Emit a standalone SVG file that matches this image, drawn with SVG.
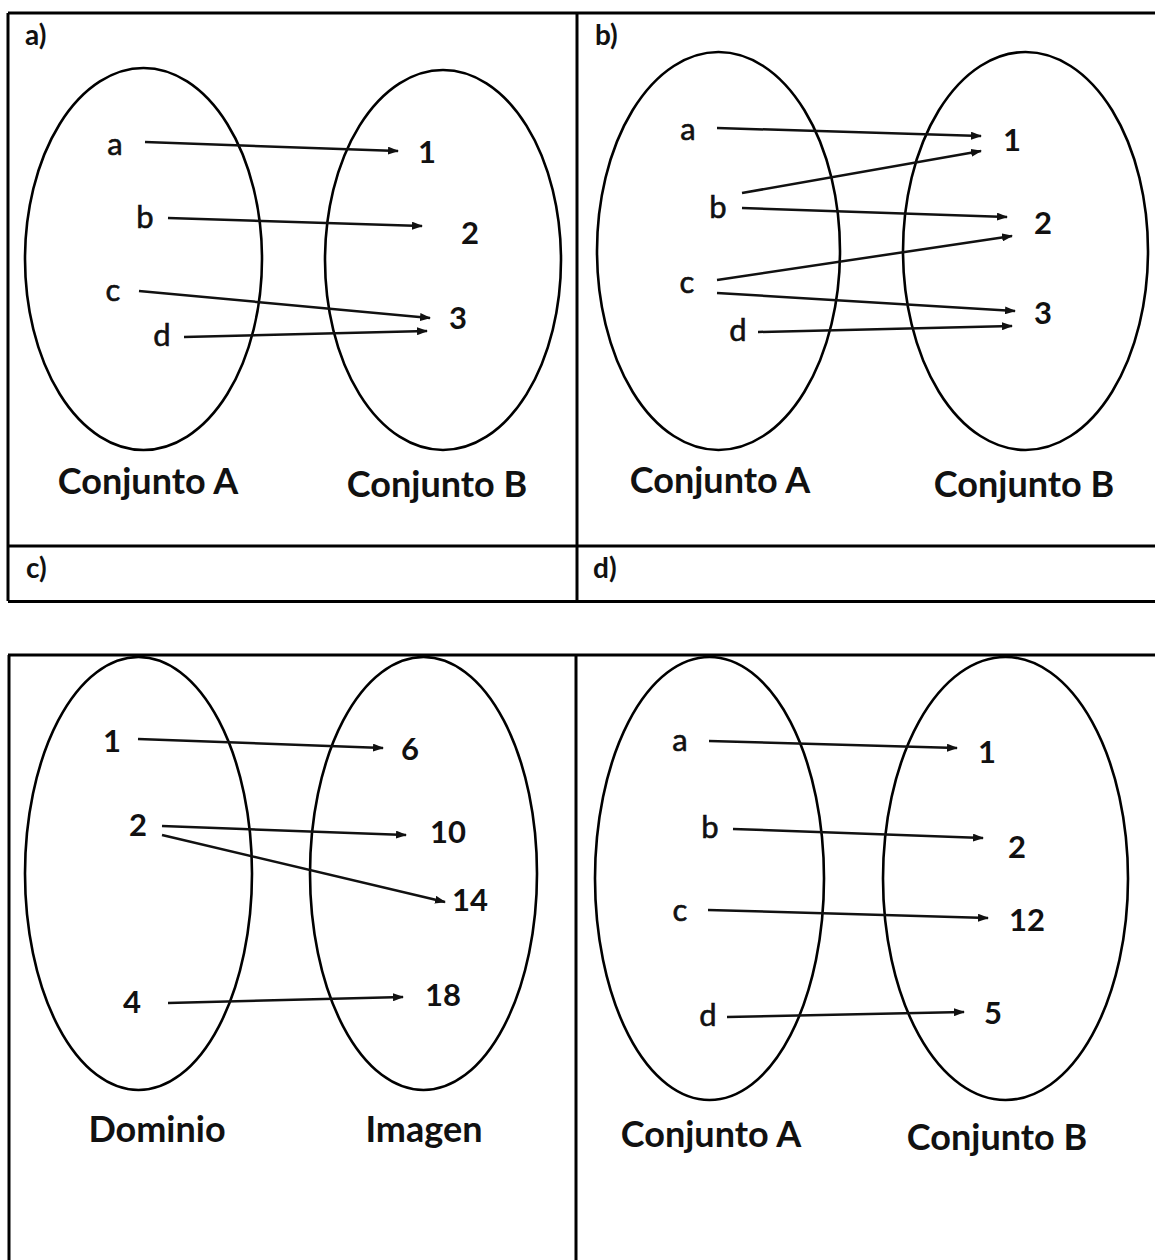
<svg xmlns="http://www.w3.org/2000/svg" width="1155" height="1260" viewBox="0 0 1155 1260">
<style>
.bg{fill:#fff}
.grid{stroke:#000;stroke-width:3;fill:none}
.set{fill:none;stroke:#000;stroke-width:2.6}
.arr{stroke:#111;stroke-width:2.5;fill:none;marker-end:url(#ah)}
.lt{font-family:Lato,"Liberation Sans",sans-serif;font-size:31px;fill:#111;stroke:#111;stroke-width:0.6;text-anchor:middle}
.dg{font-family:Lato,"Liberation Sans",sans-serif;font-size:31px;font-weight:bold;fill:#111;text-anchor:middle}
.cap{font-family:Lato,"Liberation Sans",sans-serif;font-size:36px;font-weight:bold;fill:#111;text-anchor:middle}
.pl{font-family:Lato,"Liberation Sans",sans-serif;font-size:28px;font-weight:bold;fill:#111}
</style>
<defs>
<marker id="ah" markerUnits="userSpaceOnUse" markerWidth="11" markerHeight="8" refX="10" refY="4" orient="auto">
<path d="M0,0 L11,4 L0,8 z" fill="#111"/>
</marker>
</defs>
<rect class="bg" x="0" y="0" width="1155" height="1260"/>
<g id="table">
<path class="grid" d="M8,13 H1160 M8,13 V601 M577,13 V601 M8,546 H1160 M8,601.5 H1160"/>
<path class="grid" d="M8,655 H1160 M9,655 V1265 M576,655 V1265"/>
<text class="pl" x="25" y="45">a)</text>
<text class="pl" x="595" y="45">b)</text>
<text class="pl" x="26" y="578">c)</text>
<text class="pl" x="593" y="578">d)</text>
</g>
<g id="panel-a">
<g id="a-setA"><ellipse class="set" cx="143.5" cy="259" rx="118.5" ry="191"/>
<text class="lt" x="115" y="155">a</text><text class="lt" x="145" y="228">b</text><text class="lt" x="113" y="301">c</text><text class="lt" x="162" y="346">d</text>
<text class="cap" x="148" y="494">Conjunto A</text></g>
<g id="a-setB"><ellipse class="set" cx="443" cy="260" rx="118" ry="190"/>
<text class="dg" x="427" y="163">1</text><text class="dg" x="470" y="244">2</text><text class="dg" x="458" y="329">3</text>
<text class="cap" x="437" y="497">Conjunto B</text></g>
</g>
<g id="panel-b">
<g id="b-setA"><ellipse class="set" cx="718.5" cy="251" rx="121.5" ry="199"/>
<text class="lt" x="688" y="140">a</text><text class="lt" x="718" y="218">b</text><text class="lt" x="687" y="293">c</text><text class="lt" x="738" y="341">d</text>
<text class="cap" x="720" y="493">Conjunto A</text></g>
<g id="b-setB"><ellipse class="set" cx="1025.5" cy="251" rx="122.5" ry="199"/>
<text class="dg" x="1012" y="151">1</text><text class="dg" x="1043" y="234">2</text><text class="dg" x="1043" y="324">3</text>
<text class="cap" x="1024" y="497">Conjunto B</text></g>
</g>
<g id="panel-c">
<g id="c-dom"><ellipse class="set" cx="138.5" cy="873.5" rx="113.5" ry="216.5"/>
<text class="dg" x="112" y="752">1</text><text class="dg" x="138" y="836">2</text><text class="dg" x="132" y="1013">4</text>
<text class="cap" x="157" y="1142">Dominio</text></g>
<g id="c-img"><ellipse class="set" cx="423.5" cy="873.5" rx="113.5" ry="216.5"/>
<text class="dg" x="410" y="760">6</text><text class="dg" x="448" y="843">10</text><text class="dg" x="470" y="911">14</text><text class="dg" x="443" y="1006">18</text>
<text class="cap" x="424" y="1142">Imagen</text></g>
</g>
<g id="panel-d">
<g id="d-setA"><ellipse class="set" cx="709.5" cy="878.5" rx="114.5" ry="221.5"/>
<text class="lt" x="680" y="751">a</text><text class="lt" x="710" y="838">b</text><text class="lt" x="680" y="921">c</text><text class="lt" x="708" y="1026">d</text>
<text class="cap" x="711" y="1147">Conjunto A</text></g>
<g id="d-setB"><ellipse class="set" cx="1005.5" cy="878.5" rx="122.5" ry="221.5"/>
<text class="dg" x="987" y="763">1</text><text class="dg" x="1017" y="858">2</text><text class="dg" x="1027" y="931">12</text><text class="dg" x="993" y="1024">5</text>
<text class="cap" x="997" y="1150">Conjunto B</text></g>
</g>
<g id="connectors">
<line class="arr" x1="145" y1="142" x2="398" y2="151"/>
<line class="arr" x1="168" y1="218" x2="422" y2="226"/>
<line class="arr" x1="139" y1="291" x2="430" y2="318"/>
<line class="arr" x1="184" y1="337" x2="427" y2="331"/>
<line class="arr" x1="717" y1="128" x2="981" y2="136"/>
<line class="arr" x1="742" y1="193" x2="981" y2="151"/>
<line class="arr" x1="742" y1="208" x2="1007" y2="217"/>
<line class="arr" x1="717" y1="280" x2="1012" y2="236"/>
<line class="arr" x1="717" y1="293" x2="1015" y2="311"/>
<line class="arr" x1="758" y1="332" x2="1012" y2="326"/>
<line class="arr" x1="138" y1="739" x2="383" y2="748"/>
<line class="arr" x1="162" y1="826" x2="406" y2="835"/>
<line class="arr" x1="162" y1="835" x2="445" y2="902"/>
<line class="arr" x1="168" y1="1003" x2="403" y2="997"/>
<line class="arr" x1="709" y1="741" x2="957" y2="748"/>
<line class="arr" x1="733" y1="829" x2="983" y2="838"/>
<line class="arr" x1="708" y1="910" x2="988" y2="918"/>
<line class="arr" x1="727" y1="1017" x2="964" y2="1012"/>
</g>
</svg>
